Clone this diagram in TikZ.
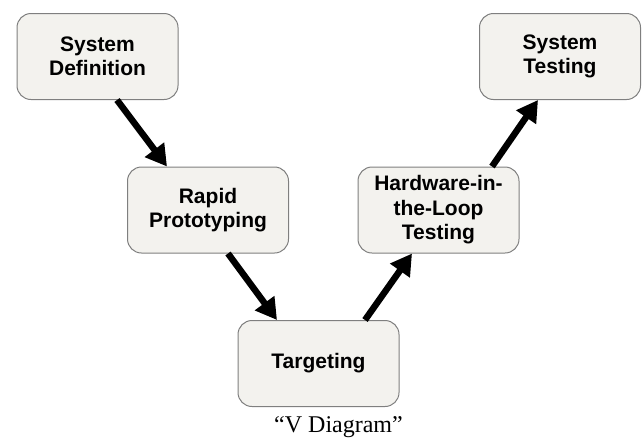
\documentclass[tikz,border=0pt]{standalone}
\usepackage{fontspec}
\setmainfont{Liberation Serif}
\newfontfamily\boxfont{Liberation Sans}
\usepackage{xcolor}
\usetikzlibrary{positioning,arrows.meta}

\definecolor{boxfill}{HTML}{F3F2EE}
\definecolor{boxline}{HTML}{7F7F7F}

\begin{document}
\begin{tikzpicture}[x=1pt,y=-1pt,
            stage/.style={rectangle,rounded corners=14pt,draw=boxline,line width=1pt,fill=boxfill,minimum width=161pt,minimum height=86pt,align=center,font=\boxfont\bfseries\fontsize{21}{24.5}\selectfont},
            arrow/.style={-{Triangle[length=21pt,width=23pt]},line width=6.5pt}]
            \useasboundingbox (0,0) rectangle (644,437);
            \node[stage] (sd) at (97.5,56.5) {System\\Definition};
            \node[stage] (rp) at (208,210) {Rapid\\Prototyping};
            \node[stage] (tg) at (318.5,363.5) {Targeting};
            \node[stage] (hil) at (438.5,210) {Hardware-in-\\the-Loop\\Testing};
            \node[stage] (st) at (560,56.5) {System\\Testing};
            \draw[arrow] ([xshift=19.5pt]sd.south)--([xshift=-41pt]rp.north);
            \draw[arrow] ([xshift=20pt]rp.south)--([xshift=-41.5pt]tg.north);
            \draw[arrow] ([xshift=46.5pt]tg.north)--([xshift=-26.5pt]hil.south);
            \draw[arrow] ([xshift=53.5pt]hil.north)--([xshift=-22pt]st.south);
            \node[anchor=base,font=\fontsize{24}{27}\selectfont] (cap) at (338.5,432) {“V Diagram”};
        \end{tikzpicture}
\end{document}
